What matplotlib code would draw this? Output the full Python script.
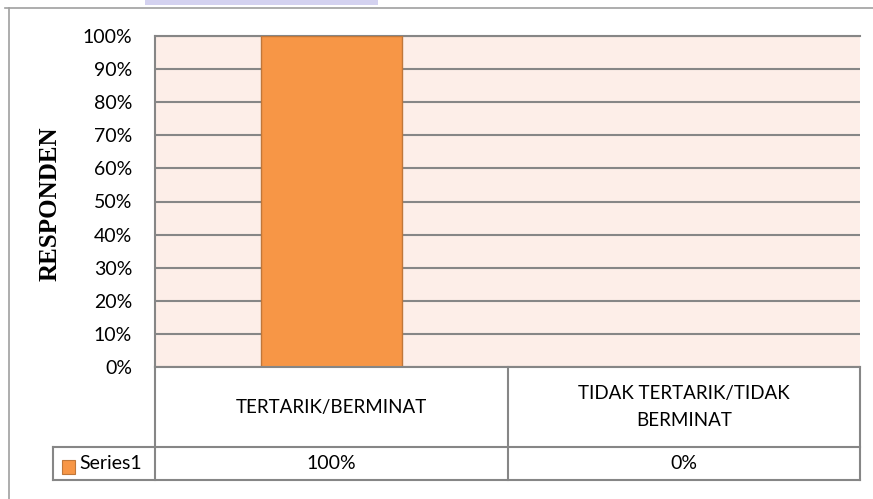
import matplotlib.pyplot as plt
from matplotlib.lines import Line2D
from matplotlib.patches import Rectangle
import numpy as np

categories = ["TERTARIK/BERMINAT", "TIDAK TERTARIK/TIDAK\nBERMINAT"]
values = [1.00, 0.00]
value_labels = ["100%", "0%"]
series_name = "Series1"
yticks = np.arange(0, 1.01, 0.1)

W, H = 873, 499
BAR = "#F79646"
GRID = "#868686"

fig = plt.figure(figsize=(W / 100, H / 100), dpi=100)


def px(x, y):
    # pixel coords (top-left origin) -> figure fraction
    return x / W, 1 - y / H


def hline(x0, x1, y, color=GRID, lw=1.5):
    (a, b), (c, _) = px(x0, y), px(x1, y)
    fig.add_artist(Line2D([a, c], [b, b], color=color, lw=lw, transform=fig.transFigure))


def vline(x, y0, y1, color=GRID, lw=1.5):
    (a, b), (_, d) = px(x, y0), px(x, y1)
    fig.add_artist(Line2D([a, a], [b, d], color=color, lw=lw, transform=fig.transFigure))


# faint watermark strip cut off at the very top
fig.add_artist(Rectangle(px(145, 5), 233 / W, 5 / H, facecolor="#D4D2F0",
                         edgecolor="none", transform=fig.transFigure))

# plot area
left, right, top, bottom = 155, 860, 36, 367
ax = fig.add_axes([left / W, 1 - bottom / H, (right - left) / W, (bottom - top) / H])
ax.set_facecolor("#FDEEE8")
x = np.arange(len(categories))
ax.bar(x, values, width=0.4, color=BAR, edgecolor="#C0773A", linewidth=1, zorder=3)
ax.set_xlim(-0.5, len(categories) - 0.5)
ax.set_ylim(0, 1)
ax.set_yticks(yticks)
ax.set_yticklabels([f"{int(round(t * 100))}%" for t in yticks], family="Lato", fontsize=14)
ax.tick_params(axis="y", length=0, pad=16.5)
ax.set_xticks([])
ax.grid(axis="y", color=GRID, lw=1.5, zorder=1)
for s in ["right", "bottom"]:
    ax.spines[s].set_visible(False)
for s in ["top", "left"]:
    ax.spines[s].set_color(GRID)
    ax.spines[s].set_linewidth(1.5)

fig.text(*px(50, 204), "RESPONDEN", rotation=90, ha="center", va="center",
         family="Liberation Serif", fontweight="bold", fontsize=18)

# outer chart border
hline(5, W, 8, color="#A0A0A0", lw=1.2)
vline(9, 8, H, color="#A0A0A0", lw=1.2)

# data table
row1, row2, row3 = 367, 447, 480
mid = (left + right) / 2
hline(left, right, row1)
hline(53, right, row2)
hline(53, right, row3)
vline(left, row1, row3)
vline(mid, row1, row3)
vline(right, row1, row3)
vline(53, row2, row3)

cols = [(left + mid) / 2, (mid + right) / 2]
for cx, cat, val in zip(cols, categories, value_labels):
    fig.text(*px(cx, (row1 + row2) / 2), cat, ha="center", va="center",
             family="Lato", fontsize=13.5, linespacing=1.7)
    fig.text(*px(cx, (row2 + row3) / 2), val, ha="center", va="center",
             family="Lato", fontsize=14)

# legend key in table
fig.add_artist(Rectangle(px(62, 474), 13 / W, 14 / H, facecolor=BAR,
                         edgecolor="#C0773A", lw=0.8, transform=fig.transFigure))
fig.text(*px(79, (row2 + row3) / 2), series_name, ha="left", va="center",
         family="Lato", fontsize=14)

fig.savefig("out.png", dpi=100)
